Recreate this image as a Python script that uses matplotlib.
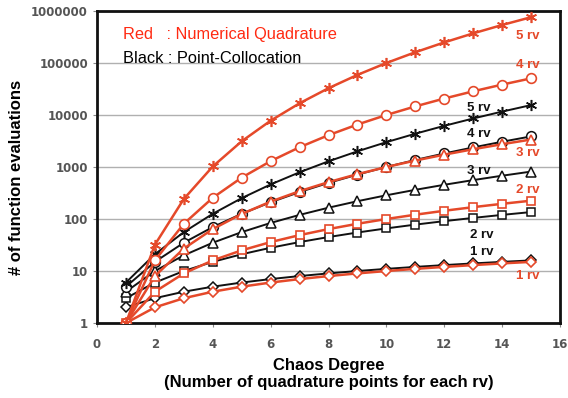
import matplotlib
matplotlib.use('Agg')
import matplotlib.pyplot as plt

# chaos degree / quadrature points per rv
degree = [1, 2, 3, 4, 5, 6, 7, 8, 9, 10, 11, 12, 13, 14, 15]

# numerical quadrature (red)
quad_1rv = [1, 2, 3, 4, 5, 6, 7, 8, 9, 10, 11, 12, 13, 14, 15]
quad_2rv = [1, 4, 9, 16, 25, 36, 49, 64, 81, 100, 121, 144, 169, 196, 225]
quad_3rv = [1, 8, 27, 64, 125, 216, 343, 512, 729, 1000, 1331, 1728,
            2197, 2744, 3375]
quad_4rv = [1, 16, 81, 256, 625, 1296, 2401, 4096, 6561, 10000, 14641,
            20736, 28561, 38416, 50625]
quad_5rv = [1, 32, 243, 1024, 3125, 7776, 16807, 32768, 59049, 100000,
            161051, 248832, 371293, 537824, 759375]

# point collocation (black)
coll_1rv = [2, 3, 4, 5, 6, 7, 8, 9, 10, 11, 12, 13, 14, 15, 16]
coll_2rv = [3, 6, 10, 15, 21, 28, 36, 45, 55, 66, 78, 91, 105, 120, 136]
coll_3rv = [4, 10, 20, 35, 56, 84, 120, 165, 220, 286, 364, 455, 560,
            680, 816]
coll_4rv = [5, 15, 35, 70, 126, 210, 330, 495, 715, 1001, 1365, 1820,
            2380, 3060, 3876]
coll_5rv = [6, 21, 56, 126, 252, 462, 792, 1287, 2002, 3003, 4368, 6188,
            8568, 11628, 15504]

RED = '#e5492a'
BLACK = '#111111'
asterisk = (6, 2, 0)
markers = ['D', 's', '^', 'o', asterisk]
msizes = [5.5, 6, 6.5, 7, 8]

fig = plt.figure(figsize=(5.68, 3.98), dpi=100)
ax = fig.add_axes([0.1708, 0.1884, 0.8151, 0.784])

coll = [coll_1rv, coll_2rv, coll_3rv, coll_4rv, coll_5rv]
quad = [quad_1rv, quad_2rv, quad_3rv, quad_4rv, quad_5rv]

for vals, m, ms in zip(coll, markers, msizes):
    ax.plot(degree, vals, color=BLACK, linewidth=1.4, marker=m,
            markersize=ms, markerfacecolor='white', markeredgecolor=BLACK,
            markeredgewidth=1.1, zorder=3)
for vals, m, ms in zip(quad, markers, msizes):
    ax.plot(degree, vals, color=RED, linewidth=1.8, marker=m,
            markersize=ms, markerfacecolor='white', markeredgecolor=RED,
            markeredgewidth=1.2, zorder=4)

ax.set_yscale('log')
ax.set_xlim(0, 16)
ax.set_ylim(1, 1000000)
ax.set_xticks(range(0, 17, 2))
ax.set_yticks([1, 10, 100, 1000, 10000, 100000, 1000000])
ax.set_yticklabels(['1', '10', '100', '1000', '10000', '100000', '1000000'])
ax.minorticks_off()
ax.yaxis.grid(True, color='#b0b0b0', linewidth=1)
ax.set_axisbelow(True)
for s in ax.spines.values():
    s.set_linewidth(2)
    s.set_color('#111111')
ax.tick_params(axis='both', length=3, color='#888888', labelsize=8.5,
               labelcolor='#555555')
ax.tick_params(axis='x', pad=8)
for lab in ax.get_xticklabels() + ax.get_yticklabels():
    lab.set_fontweight('bold')
    lab.set_family('DejaVu Sans')

ax.set_xlabel('Chaos Degree\n(Number of quadrature points for each rv)',
              fontsize=12, fontweight='bold', family='Liberation Sans',
              labelpad=5, linespacing=1.15)
ax.set_ylabel('# of function evaluations', fontsize=12, fontweight='bold',
              family='Liberation Sans')
ax.yaxis.set_label_coords(-0.158, 0.468)

ax.text(0.057, 0.925, 'Red   : Numerical Quadrature', transform=ax.transAxes,
        color='#ff2a12', fontsize=11.8, family='Liberation Sans',
        va='center')
ax.text(0.057, 0.847, 'Black : Point-Collocation', transform=ax.transAxes,
        color='black', fontsize=11.8, family='Liberation Sans',
        va='center')

# series labels
labels = [
    ('5 rv', 14.9, 330000, RED), ('4 rv', 14.9, 91000, RED),
    ('5 rv', 13.2, 13600, BLACK), ('4 rv', 13.2, 4300, BLACK),
    ('3 rv', 14.9, 1860, RED), ('3 rv', 13.2, 835, BLACK),
    ('2 rv', 14.9, 362, RED), ('2 rv', 13.3, 49, BLACK),
    ('1 rv', 13.3, 23, BLACK), ('1 rv', 14.9, 8.0, RED),
]
for txt, x, y, c in labels:
    ax.text(x, y, txt, color=c, fontsize=9.5, fontweight='bold',
            family='Liberation Sans', ha='center', va='center', zorder=5)

fig.savefig('out.png', dpi=100)
